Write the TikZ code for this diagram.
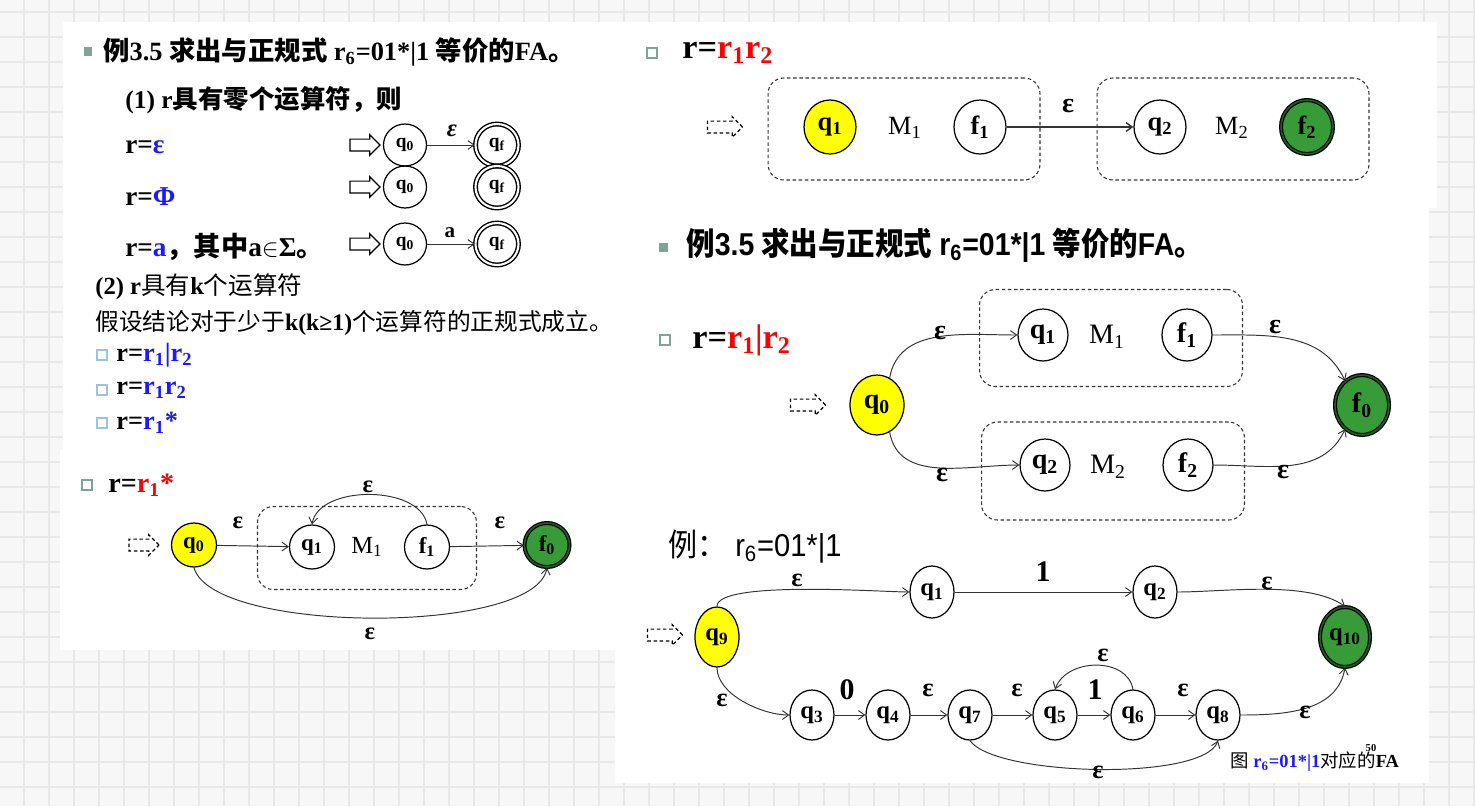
\documentclass[tikz,border=0pt]{standalone}
\usepackage{fontspec}
\usepackage{graphicx}
\setmainfont{Liberation Serif}
\newfontfamily\cjk{Noto Sans CJK SC}
\newfontfamily\lsans{Liberation Sans}
\usetikzlibrary{arrows.meta,positioning,shapes.geometric,shapes.arrows}
\definecolor{paper}{HTML}{F7F7F7}
\definecolor{gridline}{HTML}{E8E8E8}
\definecolor{startfill}{HTML}{FFFF00}
\definecolor{acceptfill}{HTML}{379B37}
\definecolor{acceptdark}{HTML}{1E5E1E}
\definecolor{bulletteal}{HTML}{7FA398}
\definecolor{bulletblue}{HTML}{9CC2E5}
\definecolor{symblue}{HTML}{1A1AFF}
\definecolor{symred}{HTML}{FF0000}
\definecolor{wire}{HTML}{333333}
\newcommand{\zh}[1]{{\cjk #1}}
\newcommand{\fs}[1]{\fontsize{#1}{#1}\selectfont}
\tikzset{
  % states; sizes are set per slide in the scope options
  st/.style={draw, ellipse, line width=0.7pt, inner sep=0pt, minimum width=0.86cm, minimum height=0.84cm, font=\bfseries\fs{11pt}},
  start/.style={st, fill=startfill},
  fin/.style={st, double, double distance=1.2pt, line width=0.8pt},
  acc/.style={st, fill=acceptfill, double=acceptdark, double distance=0.9pt, line width=0.7pt},
  entry/.style={single arrow, draw, line width=0.7pt, minimum height=0.6cm, inner sep=3pt, single arrow head extend=2.5pt},
  dentry/.style={entry, dash pattern=on 2pt off 1.5pt},
  box/.style={draw=wire, dash pattern=on 2pt off 1.5pt, rounded corners=9pt, line width=0.6pt, inner sep=0pt},
  tr/.style={-{Straight Barb[length=3.5pt,width=5pt]}, line width=0.55pt, draw=wire},
  lbl/.style={inner sep=0pt, font=\bfseries\fs{14pt}},
  mname/.style={inner sep=0pt, font=\fs{14pt}},
  txt/.style={anchor=west, inner sep=0pt, font=\bfseries\fs{15.5pt}},
  sqbul/.style={fill=bulletteal, minimum size=0.18cm, inner sep=0pt},
  hsq/.style={draw=#1, line width=1.3pt, fill=white, minimum size=0.19cm, inner sep=0pt},
}
\begin{document}
\begin{tikzpicture}[x=0.02cm,y=-0.02cm]
  \useasboundingbox (0,0) rectangle (1475,806);
  % grid paper behind the slides
  \fill[paper] (0,0) rectangle (1475,806);
  \foreach \gx in {24,49,...,1474} \draw[gridline, line width=0.8pt] (\gx,0) -- (\gx,806);
  \foreach \gy in {12,37,...,800} \draw[gridline, line width=0.8pt] (0,\gy) -- (1475,\gy);
  % slide cut-outs
  \fill[white] (63,22) rectangle (615,450);
  \fill[white] (60,450) rectangle (615,650);
  \fill[white] (615,22) rectangle (1437,208);
  \fill[white] (615,208) rectangle (1429,783);

  % slide 1: base cases
  \node[sqbul] (b1) at (88,51) {};
  \node[txt, font=\bfseries\fs{15pt}] (t1) at (103,52) {\zh{例}3.5 \zh{求出与正规式} r\textsubscript{6}=01*|1 \zh{等价的}FA\zh{。}};
  \node[txt, font=\bfseries\fs{14.5pt}] (t2) at (125,100) {(1) r\zh{具有零个运算符，则}};
  \node[txt] (t3) at (125,147) {r=\textcolor{symblue}{ε}};
  \node[txt] (t4) at (125,197) {r=\textcolor{symblue}{Φ}};
  \node[txt] (t5) at (125,247) {r=\textcolor{symblue}{a}\zh{，其中}a$\in$Σ\zh{。}};

  \node[entry] (e1) at (362,145) {};
  \node[st] (a1) at (405,145) {q\textsubscript{0}};
  \node[fin] (a2) at (497,145) {q\textsubscript{f}};
  \draw[tr] (a1) -- (a2);
  \node[lbl] (l1) at (452,131) {\textit{ε}};

  \node[entry] (e2) at (362,187) {};
  \node[st] (a3) at (405,187) {q\textsubscript{0}};
  \node[fin] (a4) at (497,187) {q\textsubscript{f}};

  \node[entry] (e3) at (362,244) {};
  \node[st] (a5) at (405,244) {q\textsubscript{0}};
  \node[fin] (a6) at (497,244) {q\textsubscript{f}};
  \draw[tr] (a5) -- (a6);
  \node[lbl, font=\bfseries\fs{12pt}] (l2) at (450,233) {a};

  \node[txt, font=\bfseries\fs{14pt}] (t6) at (95,287) {(2) r\zh{\mdseries 具有}k\zh{\mdseries 个运算符}};
  \node[txt, font=\fs{13.5pt}] (t7) at (95,323) {\zh{假设结论对于少于}\textbf{k(k≥1)}\zh{个运算符的正规式成立。}};
  \node[hsq=bulletblue] (b2) at (102,355) {};
  \node[txt, font=\bfseries\fs{15pt}] (t8) at (116,355) {r=\textcolor{symblue}{r\textsubscript{1}|r\textsubscript{2}}};
  \node[hsq=bulletblue] (b3) at (102,390) {};
  \node[txt, font=\bfseries\fs{15pt}] (t9) at (116,390) {r=\textcolor{symblue}{r\textsubscript{1}r\textsubscript{2}}};
  \node[hsq=bulletblue] (b4) at (102,423) {};
  \node[txt, font=\bfseries\fs{15pt}] (t10) at (116,423) {r=\textcolor{symblue}{r\textsubscript{1}*}};

  % slide 2: closure
  \begin{scope}[st/.append style={minimum width=0.9cm, minimum height=0.88cm, font=\bfseries\fs{13pt}}]
    \node[hsq=bulletteal] (b5) at (87,485) {};
    \node[txt, font=\bfseries\fs{16pt}] (t11) at (108,485) {r=\textcolor{symred}{r\textsubscript{1}*}};
    \node[box, minimum width=4.38cm, minimum height=1.66cm] (bx0) at (367,548) {};
    \node[dentry] (e4) at (141,545) {};
    \node[start] (s0) at (194,545) {q\textsubscript{0}};
    \node[st] (s1) at (312,547) {q\textsubscript{1}};
    \node[mname] (sm) at (367,547) {M\textsubscript{1}};
    \node[st] (s2) at (427,547) {f\textsubscript{1}};
    \node[acc] (s3) at (547,545) {f\textsubscript{0}};
    \draw[tr] (s0) -- (s1);
    \draw[tr] (s2) -- (s3);
    \draw[tr] (s2.north) to[out=100,in=80,looseness=0.9] (s1.north);
    \draw[tr] (s0.south) to[out=-75,in=-100,looseness=0.5] (s3.south);
    \node[lbl] (se1) at (238,523) {ε};
    \node[lbl] (se2) at (500,523) {ε};
    \node[lbl] (se3) at (368,487) {ε};
    \node[lbl] (se4) at (370,634) {ε};
  \end{scope}

  % slide 3: concatenation
  \begin{scope}[st/.append style={minimum width=1.04cm, minimum height=1.08cm, font=\bfseries\fs{15pt}},
                dentry/.append style={minimum height=0.7cm}]
    \node[hsq=bulletteal] (b6) at (652,53) {};
    \node[txt, font=\bfseries\fs{19.5pt}] (t12) at (682,53) {r=\textcolor{symred}{r\textsubscript{1}r\textsubscript{2}}};
    \node[dentry] (e5) at (722,127) {};
    \node[box, minimum width=5.44cm, minimum height=2.04cm] (bx1) at (904,129) {};
    \node[box, minimum width=5.44cm, minimum height=2.04cm] (bx2) at (1233,129) {};
    \node[start] (c1) at (830,127) {q\textsubscript{1}};
    \node[mname, font=\fs{15pt}] (cm1) at (905,128) {M\textsubscript{1}};
    \node[st] (c2) at (980,127) {f\textsubscript{1}};
    \node[st] (c3) at (1160,127) {q\textsubscript{2}};
    \node[mname, font=\fs{15pt}] (cm2) at (1232,128) {M\textsubscript{2}};
    \node[acc] (c4) at (1307,127) {f\textsubscript{2}};
    \draw[tr, line width=0.8pt] (c2) -- (c3);
    \node[lbl, font=\bfseries\fs{16pt}] (ce1) at (1068,106) {ε};
  \end{scope}

  % slide 4: union
  \node[sqbul] (b7) at (663,247) {};
  \node[txt, font=\bfseries\fs{18pt}] (t13) at (686,245) {\scalebox{0.9}[1]{\zh{例}{\lsans 3.5} \zh{求出与正规式} {\lsans r\textsubscript{6}=01*|1} \zh{等价的}{\lsans FA}\zh{。}}};
  \node[hsq=bulletteal] (b8) at (665,340) {};
  \node[txt, font=\bfseries\fs{19.5pt}] (t14) at (692,340) {r=\textcolor{symred}{r\textsubscript{1}|r\textsubscript{2}}};
  \begin{scope}[st/.append style={minimum width=1.0cm, minimum height=1.04cm, font=\bfseries\fs{16pt}},
                dentry/.append style={minimum height=0.7cm}]
    \node[box, minimum width=5.26cm, minimum height=1.94cm] (bx3) at (1111,338) {};
    \node[box, minimum width=5.26cm, minimum height=1.96cm] (bx4) at (1113,471) {};
    \node[dentry] (e6) at (805,405) {};
    \node[start, minimum width=1.08cm, minimum height=1.2cm] (m0) at (877,405) {q\textsubscript{0}};
    \node[st] (m1) at (1043,335) {q\textsubscript{1}};
    \node[mname, font=\fs{16pt}] (mm1) at (1107,337) {M\textsubscript{1}};
    \node[st] (m2) at (1187,335) {f\textsubscript{1}};
    \node[st] (m3) at (1045,465) {q\textsubscript{2}};
    \node[mname, font=\fs{16pt}] (mm2) at (1108,467) {M\textsubscript{2}};
    \node[st] (m4) at (1188,465) {f\textsubscript{2}};
    \node[acc, minimum width=1.08cm, minimum height=1.2cm] (m5) at (1362,405) {f\textsubscript{0}};
    \draw[tr] (m0.65) to[out=80,in=180] (m1.west);
    \draw[tr] (m0.-65) to[out=-80,in=180] (m3.west);
    \draw[tr] (m2.east) to[out=0,in=115] (m5.125);
    \draw[tr] (m4.east) to[out=0,in=-115] (m5.-125);
    \node[lbl, font=\bfseries\fs{16pt}] (me1) at (940,333) {ε};
    \node[lbl, font=\bfseries\fs{16pt}] (me2) at (1275,327) {ε};
    \node[lbl, font=\bfseries\fs{16pt}] (me3) at (942,475) {ε};
    \node[lbl, font=\bfseries\fs{16pt}] (me4) at (1283,472) {ε};
  \end{scope}

  % slide 5: the automaton for r6
  \node[txt, font=\fs{18pt}] (t15) at (668,547) {\scalebox{0.92}[1]{\zh{例：}\hspace{0.3em}{\lsans r\textsubscript{6}=01*|1}}};
  \begin{scope}[st/.append style={minimum width=0.88cm, minimum height=1.0cm, font=\bfseries\fs{14pt}},
                dentry/.append style={minimum height=0.7cm}]
    \node[dentry] (e7) at (662,635) {};
    \node[start, minimum height=1.2cm] (n9) at (717,637) {q\textsubscript{9}};
    \node[st, minimum height=1.04cm] (n1) at (932,592) {q\textsubscript{1}};
    \node[st, minimum height=1.04cm] (n2) at (1155,592) {q\textsubscript{2}};
    \node[acc, minimum width=1.0cm, minimum height=1.2cm] (n10) at (1345,637) {q\textsubscript{10}};
    \node[st] (n3) at (812,715) {q\textsubscript{3}};
    \node[st] (n4) at (888,715) {q\textsubscript{4}};
    \node[st] (n7) at (970,715) {q\textsubscript{7}};
    \node[st] (n5) at (1055,715) {q\textsubscript{5}};
    \node[st] (n6) at (1133,715) {q\textsubscript{6}};
    \node[st] (n8) at (1218,715) {q\textsubscript{8}};
    \draw[tr] (n9.north) to[out=90,in=180,looseness=0.35] (n1.west);
    \draw[tr] (n1) -- (n2);
    \draw[tr] (n2.east) to[out=0,in=145,looseness=0.7] (n10.north);
    \draw[tr] (n9.south) to[out=-90,in=180,looseness=0.8] (n3.west);
    \draw[tr] (n3) -- (n4);
    \draw[tr] (n4) -- (n7);
    \draw[tr] (n7) -- (n5);
    \draw[tr] (n5) -- (n6);
    \draw[tr] (n6) -- (n8);
    \draw[tr] (n8.east) to[out=0,in=-100] (n10.south);
    \draw[tr] (n6.north) to[out=100,in=70,looseness=1.1] (n5.north);
    \draw[tr] (n7.south) to[out=-55,in=-110,looseness=0.45] (n8.south);
    \node[lbl, font=\bfseries\fs{15pt}] (ne1) at (797,580) {ε};
    \node[lbl, font=\bfseries\fs{17pt}] (ne2) at (1043,572) {1};
    \node[lbl, font=\bfseries\fs{15pt}] (ne3) at (1267,583) {ε};
    \node[lbl, font=\bfseries\fs{15pt}] (ne4) at (722,700) {ε};
    \node[lbl, font=\bfseries\fs{17pt}] (ne5) at (847,690) {0};
    \node[lbl, font=\bfseries\fs{15pt}] (ne6) at (928,690) {ε};
    \node[lbl, font=\bfseries\fs{15pt}] (ne7) at (1017,690) {ε};
    \node[lbl, font=\bfseries\fs{17pt}] (ne8) at (1095,690) {1};
    \node[lbl, font=\bfseries\fs{15pt}] (ne9) at (1183,690) {ε};
    \node[lbl, font=\bfseries\fs{15pt}] (ne10) at (1305,712) {ε};
    \node[lbl, font=\bfseries\fs{15pt}] (ne11) at (1103,655) {ε};
    \node[lbl, font=\bfseries\fs{15pt}] (ne12) at (1098,772) {ε};
  \end{scope}
  \node[txt, font=\fs{10.5pt}] (cap) at (1230,762) {\zh{图} \textcolor{symblue}{\textbf{r\textsubscript{6}=01*|1}}\zh{对应的}\textbf{FA}};
  \node[inner sep=0pt, font=\bfseries\fs{6pt}] (pg) at (1371,748) {50};
\end{tikzpicture}
\end{document}
